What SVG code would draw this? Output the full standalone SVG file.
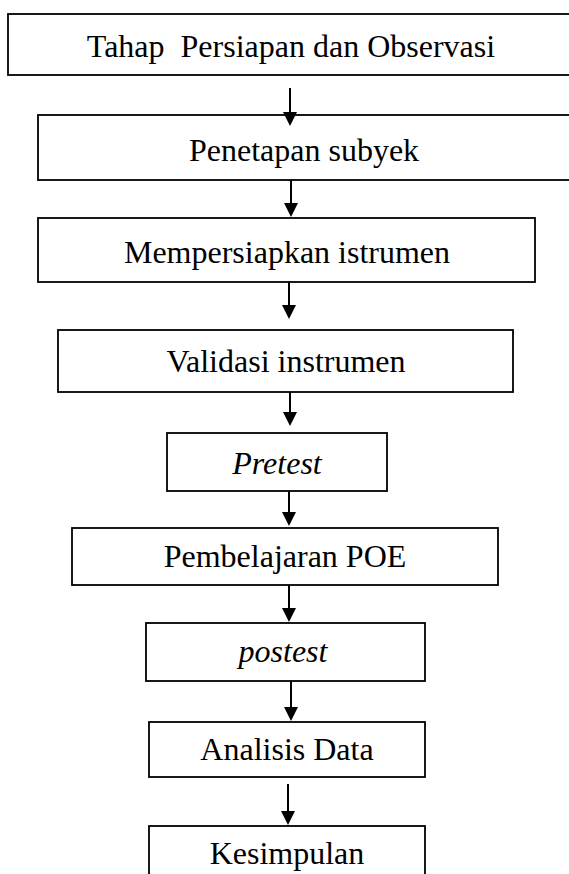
<svg xmlns="http://www.w3.org/2000/svg" width="569" height="874" viewBox="0 0 569 874">
<style>
.box{fill:#fff;stroke:#000;stroke-width:1.8}
.t{font-family:"Liberation Serif","Times New Roman",serif;font-size:32px;fill:#000;text-anchor:middle;white-space:pre}
.i{font-style:italic}
.c{stroke:#000;stroke-width:2;fill:none;marker-end:url(#ah)}
</style>
<defs>
<marker id="ah" markerUnits="userSpaceOnUse" markerWidth="14" markerHeight="14" refX="2" refY="7" orient="auto" viewBox="0 0 14 14">
<path d="M0,0 L14,7 L0,14 z" fill="#000"/>
</marker>
</defs>
<rect width="569" height="874" fill="#fff"/>
<g id="n1"><rect class="box" x="8" y="14" width="570" height="61"/><text class="t" x="291" y="57" xml:space="preserve">Tahap  Persiapan dan Observasi</text></g>
<g id="n2"><rect class="box" x="38" y="115" width="540" height="65"/><text class="t" x="304" y="161">Penetapan subyek</text></g>
<g id="n3"><rect class="box" x="38" y="218" width="497" height="64"/><text class="t" x="287" y="263">Mempersiapkan istrumen</text></g>
<g id="n4"><rect class="box" x="58" y="330" width="455" height="62"/><text class="t" x="286" y="372">Validasi instrumen</text></g>
<g id="n5"><rect class="box" x="167" y="433" width="220" height="58"/><text class="t i" x="277" y="474">Pretest</text></g>
<g id="n6"><rect class="box" x="72" y="528" width="426" height="57"/><text class="t" x="285" y="567">Pembelajaran POE</text></g>
<g id="n7"><rect class="box" x="146" y="623" width="279" height="58"/><text class="t i" x="283" y="662">postest</text></g>
<g id="n8"><rect class="box" x="149" y="722" width="276" height="55"/><text class="t" x="287" y="760">Analisis Data</text></g>
<g id="n9"><rect class="box" x="149" y="826" width="276" height="80"/><text class="t" x="287" y="864">Kesimpulan</text></g>
<g id="connectors">
<line class="c" x1="290" y1="88" x2="290" y2="114"/>
<line class="c" x1="291" y1="180" x2="291" y2="205"/>
<line class="c" x1="289" y1="282" x2="289" y2="307"/>
<line class="c" x1="290" y1="392" x2="290" y2="414"/>
<line class="c" x1="289" y1="491" x2="289" y2="514"/>
<line class="c" x1="289" y1="585" x2="289" y2="610"/>
<line class="c" x1="291" y1="681" x2="291" y2="709"/>
<line class="c" x1="288" y1="784" x2="288" y2="813"/>
</g>
</svg>
